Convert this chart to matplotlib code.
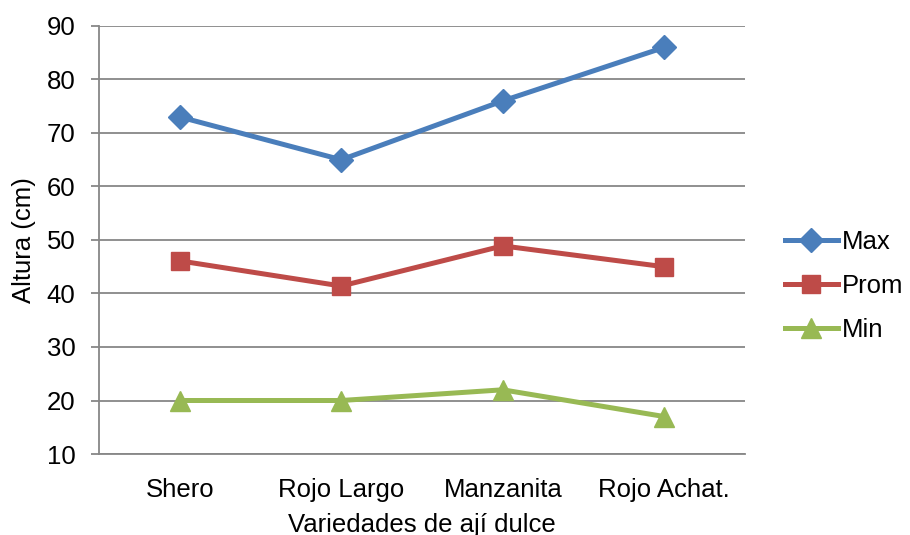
import matplotlib
matplotlib.use("Agg")
import matplotlib.pyplot as plt

categories = ["Shero", "Rojo Largo", "Manzanita", "Rojo Achat."]
max_vals = [73, 65, 76, 86]
prom_vals = [46.1, 41.4, 48.9, 45.0]
min_vals = [20, 20, 22, 17]
yticks = [10, 20, 30, 40, 50, 60, 70, 80, 90]

plt.rcParams['font.family'] = ['Liberation Sans', 'DejaVu Sans']
FS = 18.5

fig = plt.figure(figsize=(9.1, 5.35), dpi=100)
ax = fig.add_axes([99/910, 81/535, 646/910, 428/535])

x = list(range(len(categories)))
grid_c = '#878787'
ax.plot(x, max_vals, color='#4A7EBB', lw=3.6, marker='D', ms=12, label='Max', zorder=3)
ax.plot(x, prom_vals, color='#BE4B48', lw=3.6, marker='s', ms=13, label='Prom', zorder=3)
ax.plot(x, min_vals, color='#98B954', lw=3.6, marker='^', ms=14, label='Min', zorder=3)

ax.set_xlim(-0.5, 3.5)
ax.set_ylim(10, 90)
ax.set_yticks(yticks)
ax.set_xticks(x)
ax.set_xticklabels(categories)
ax.yaxis.grid(True, color=grid_c, lw=1.3)
ax.set_axisbelow(True)
for s in ['top', 'right']:
    ax.spines[s].set_visible(False)
for s in ['left', 'bottom']:
    ax.spines[s].set_color(grid_c)
    ax.spines[s].set_linewidth(1.3)
ax.tick_params(axis='y', direction='out', length=6, width=1.3, color=grid_c, labelsize=FS, pad=11)
ax.tick_params(axis='x', length=0, labelsize=FS, pad=17)

ax.set_ylabel('Altura (cm)', fontsize=FS, labelpad=8)
ax.set_xlabel('Variedades de ají dulce', fontsize=FS, labelpad=8)

leg = ax.legend(loc='center left', bbox_to_anchor=(1.062, 0.393), frameon=False,
                fontsize=FS, handlelength=2.05, handletextpad=0.15, labelspacing=0.78,
                borderpad=0, borderaxespad=0)

fig.savefig('out.png', dpi=100)
